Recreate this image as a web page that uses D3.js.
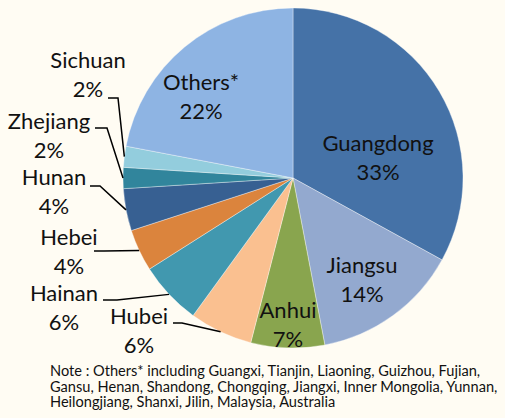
<!DOCTYPE html>
<html lang="en">
  <head>
    <meta charset="UTF-8" />
    <title>pie</title>
    <style>
      body {
        margin: 0;
        background: #fffcf3;
      }
      text {
        font-family: Lato, "Open Sans", sans-serif;
        fill: #111;
      }
    </style>
  </head>

  <body>
    <div class="container"></div>

    <script src="https://d3js.org/d3.v7.min.js"></script>
    <script>
      // data
      const provinces = ["Guangdong", "Jiangsu", "Anhui", "Hubei", "Hainan", "Hebei", "Hunan", "Zhejiang", "Sichuan", "Others*"];
      const shares = [33, 14, 7, 6, 6, 4, 4, 2, 2, 22];
      const colors = ["#4572a7", "#93a9cf", "#89a54e", "#fac090", "#4198af", "#db843d", "#376092", "#31859c", "#93cddd", "#8eb4e3"];
      const noteLines = [
        "Note : Others* including Guangxi, Tianjin, Liaoning, Guizhou, Fujian,",
        "Gansu, Henan, Shandong, Chongqing, Jiangxi, Inner Mongolia, Yunnan,",
        "Heilongjiang, Shanxi, Jilin, Malaysia, Australia",
      ];

      // label layout (text centre x, first baseline y, leader start for outside ones)
      const labelLayout = {
        Guangdong: { x: 378, y: 151 },
        Jiangsu: { x: 362, y: 273 },
        Anhui: { x: 288, y: 318 },
        Hubei: { x: 139, y: 324, lead: [173, 182, 323] },
        Hainan: { x: 64, y: 301, lead: [103, 117, 300] },
        Hebei: { x: 69, y: 245, lead: [94, 104, 251] },
        Hunan: { x: 54, y: 185, lead: [90, 100, 186] },
        Zhejiang: { x: 49, y: 129, lead: [95, 107, 128] },
        Sichuan: { x: 88, y: 68, lead: [108, 118, 98] },
        "Others*": { x: 201, y: 90 },
      };

      const W = 505, H = 418;
      const cx = 293, cy = 178, R = 170;

      const svg = d3.select(".container").append("svg").attr("width", W).attr("height", H);

      // inside labels are cut at the plot area bottom
      svg.append("defs").append("clipPath").attr("id", "plot")
        .append("rect").attr("x", 0).attr("y", 0).attr("width", W).attr("height", 348);

      const chart = svg.append("g");
      const g = chart.append("g").attr("transform", `translate(${cx},${cy})`);

      const pie = d3.pie().sort(null).value((d, i) => shares[i]);
      const arcs = pie(provinces);
      const arc = d3.arc().innerRadius(0).outerRadius(R);

      g.selectAll("path")
        .data(arcs)
        .join("path")
        .attr("d", arc)
        .attr("fill", (d, i) => colors[i])
        .attr("stroke", "#ffffff")
        .attr("stroke-opacity", 0.6)
        .attr("stroke-width", 0.6);

      // leader lines
      chart.selectAll("polyline")
        .data(arcs.filter((d) => labelLayout[d.data].lead))
        .join("polyline")
        .attr("points", (d) => {
          const L = labelLayout[d.data].lead;
          const a = (d.startAngle + d.endAngle) / 2;
          const ex = cx + R * Math.sin(a), ey = cy - R * Math.cos(a);
          return `${L[0]},${L[2]} ${L[1]},${L[2]} ${ex},${ey}`;
        })
        .attr("fill", "none")
        .attr("stroke", "#000")
        .attr("stroke-width", 1.5);

      // labels
      const labels = chart.selectAll("text.lab")
        .data(arcs)
        .join("text")
        .attr("class", "lab")
        .attr("text-anchor", "middle")
        .attr("font-size", 22)
        .attr("clip-path", (d) => (labelLayout[d.data].lead ? null : "url(#plot)"));
      labels.append("tspan")
        .attr("x", (d) => labelLayout[d.data].x)
        .attr("y", (d) => labelLayout[d.data].y)
        .text((d) => d.data);
      labels.append("tspan")
        .attr("x", (d) => labelLayout[d.data].x)
        .attr("y", (d) => labelLayout[d.data].y + 29)
        .text((d, i) => shares[i] + "%");

      // note
      svg.append("g")
        .selectAll("text")
        .data(noteLines)
        .join("text")
        .attr("x", 50)
        .attr("y", (d, i) => 376 + i * 15.5)
        .attr("font-size", 14.6)
        .text((d) => d);
    </script>
  </body>
</html>
